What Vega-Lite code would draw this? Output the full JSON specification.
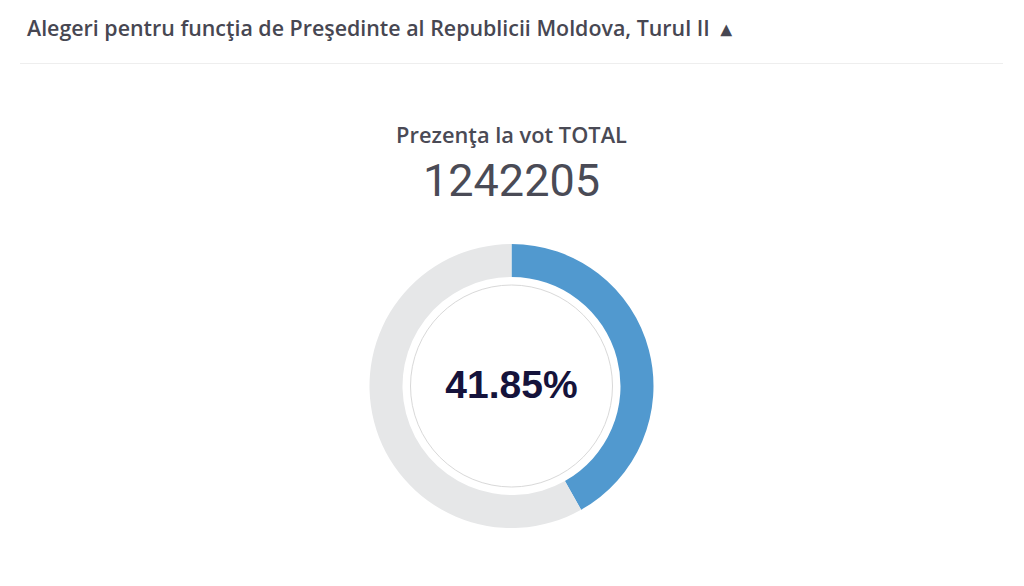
{
  "$schema": "https://vega.github.io/schema/vega-lite/v6.json",
  "background": "white",
  "padding": {"left": 20, "right": 21, "top": 18, "bottom": 0},
  "config": {"view": {"stroke": null}, "concat": {"spacing": 61}},
  "vconcat": [
    {
      "width": 983,
      "height": 1,
      "title": {
        "text": "Alegeri pentru funcţia de Preşedinte al Republicii Moldova, Turul II\u00a0\u00a0▴",
        "anchor": "start",
        "dx": 7,
        "font": "Open Sans",
        "fontSize": 21.4,
        "fontWeight": 600,
        "color": "#474752",
        "offset": 23
      },
      "view": {"stroke": null, "fill": "#eeeeee"},
      "data": {"values": []},
      "mark": "rule",
      "encoding": {}
    },
    {
      "width": 983,
      "height": 300,
      "title": {
        "text": "Prezenţa la vot TOTAL",
        "subtitle": "1242205",
        "anchor": "middle",
        "font": "Open Sans",
        "fontSize": 21.8,
        "fontWeight": 600,
        "color": "#4a4a55",
        "subtitleFont": "Roboto",
        "subtitleFontSize": 45,
        "subtitleFontWeight": 400,
        "subtitleColor": "#4a4b56",
        "subtitlePadding": 12,
        "offset": 31.5
      },
      "data": {
        "values": [
          {"label": "Prezenţa la vot", "value": 0.4185},
          {"label": "Restul", "value": 0.5815}
        ]
      },
      "layer": [
        {
          "mark": {"type": "arc", "radius": 142, "radius2": 109},
          "encoding": {
            "theta": {"field": "value", "type": "quantitative", "stack": true},
            "order": {"field": "value", "type": "quantitative"},
            "color": {
              "field": "label",
              "type": "nominal",
              "scale": {"domain": ["Prezenţa la vot", "Restul"], "range": ["#5199cf", "#e6e7e8"]},
              "legend": null
            }
          }
        },
        {
          "transform": [{"filter": "datum.value < 0.5"}],
          "mark": {"type": "point", "shape": "circle", "size": 40804, "filled": false, "stroke": "#d9d9d9", "strokeWidth": 1, "opacity": 1},
          "encoding": {}
        },
        {
          "transform": [{"filter": "datum.value < 0.5"}],
          "mark": {"type": "text", "font": "Liberation Sans", "fontSize": 39, "fontWeight": "bold", "color": "#15133b", "baseline": "middle", "align": "center"},
          "encoding": {"text": {"field": "value", "type": "quantitative", "format": ".2%"}}
        }
      ]
    }
  ]
}
